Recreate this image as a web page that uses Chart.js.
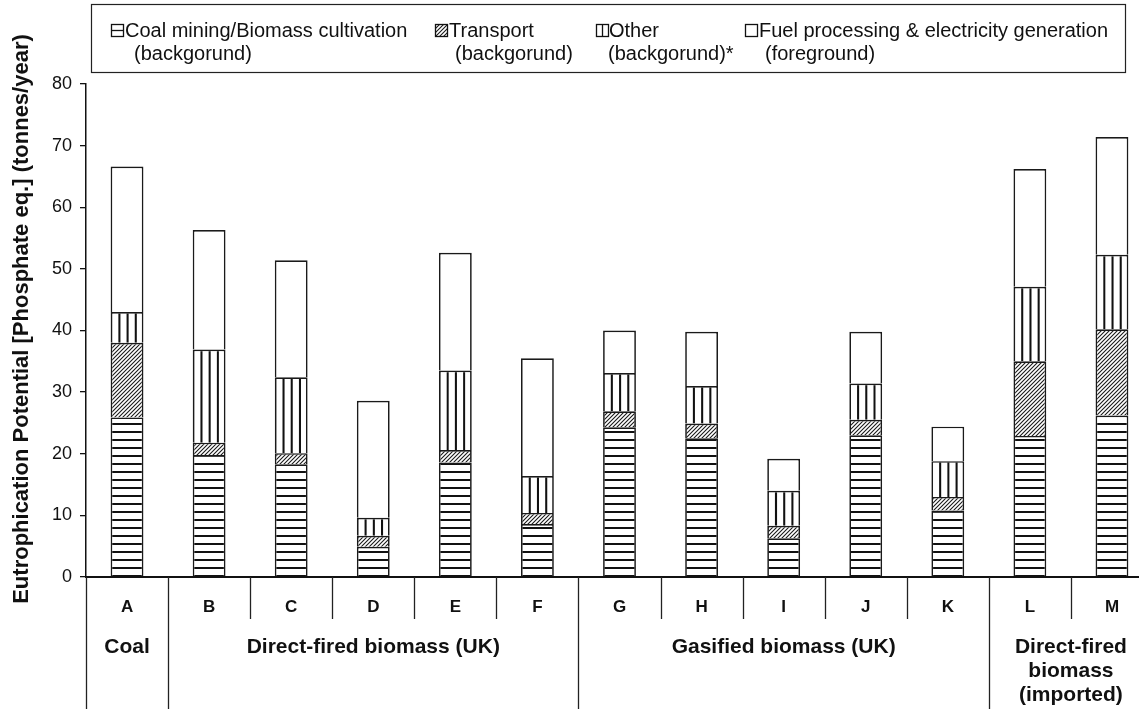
<!DOCTYPE html>
<html>
<head>
<meta charset="utf-8">
<script src="https://cdn.jsdelivr.net/npm/chart.js@4.4.1/dist/chart.umd.min.js"></script>
<style>
  html, body { margin: 0; padding: 0; background: #fff; overflow: hidden; }
  #wrap { position: absolute; left: 0; top: 0; width: 1160px; height: 709px; }
</style>
</head>
<body>
<div id="wrap"><canvas id="chart" width="1160" height="709"></canvas></div>
<script>
// --- data (tonnes/year, stacked segments) ---
const categories = ['A', 'B', 'C', 'D', 'E', 'F', 'G', 'H', 'I', 'J', 'K', 'L', 'M'];
const coalBiomass    = [25.9, 19.8, 18.3, 4.9, 18.6, 8.6, 24.3, 22.5, 6.3, 23.0, 10.8, 22.9, 26.2];
const transport      = [12.1, 2.0, 1.8, 1.8, 2.0, 1.8, 2.6, 2.4, 2.0, 2.5, 2.2, 12.1, 14.0];
const other          = [5.0, 15.1, 12.3, 2.9, 12.9, 6.0, 6.2, 6.1, 5.7, 5.9, 5.8, 12.1, 12.1];
const fuelProcessing = [23.6, 19.4, 19.0, 19.0, 19.1, 19.1, 6.9, 8.8, 5.2, 8.4, 5.6, 19.1, 19.1];
const yTicks = [0, 10, 20, 30, 40, 50, 60, 70, 80];

// groups under the letters: first index, last index, text lines
const groupStart = [0, 1, 6, 11];
const groupEnd   = [0, 5, 10, 12];
const groupText  = [['Coal'], ['Direct-fired biomass (UK)'], ['Gasified biomass (UK)'], ['Direct-fired', 'biomass', '(imported)']];

const legendLine1 = ['Coal mining/Biomass cultivation', 'Transport', 'Other', 'Fuel processing & electricity generation'];
const legendLine2 = ['(backgorund)', '(backgorund)', '(backgorund)*', '(foreground)'];
const yTitle = 'Eutrophication Potential [Phosphate eq.] (tonnes/year)';

const BAR_PCT = 0.4;
const FONT = '"Liberation Sans", Arial, sans-serif';

const canvas = document.getElementById('chart');
const mainCtx = canvas.getContext('2d');

// hatch fills
function makePattern(kind) {
    const c = document.createElement('canvas');
    const g = c.getContext('2d');
    if (kind === 'diagonal') {
        c.width = 4; c.height = 4;
        g.fillStyle = '#fff'; g.fillRect(0, 0, 4, 4);
        g.strokeStyle = '#1a1a1a'; g.lineWidth = 1.1;
        g.beginPath();
        g.moveTo(0, 4); g.lineTo(4, 0);
        g.moveTo(-1, 1); g.lineTo(1, -1);
        g.moveTo(3, 5); g.lineTo(5, 3);
        g.stroke();
    } else {
        c.width = 8; c.height = 8;
        g.fillStyle = '#fff'; g.fillRect(0, 0, 8, 8);
        g.fillStyle = '#111';
        if (kind === 'horizontal') g.fillRect(0, 0, 8, 2);
        else if (kind === 'vertical') g.fillRect(0, 0, 2, 8);
    }
    return mainCtx.createPattern(c, 'repeat');
}

const fills = [makePattern('horizontal'), makePattern('diagonal'), makePattern('vertical'), '#ffffff'];
const legendHatch = makePattern('diagonal');

// line the vertical stripes up with the bar edges (4 stripes per bar width)
const stripePlugin = {
    id: 'stripes',
    beforeDatasetsDraw(chart) {
        const xs = chart.scales.x;
        const step = xs.getPixelForValue(1) - xs.getPixelForValue(0);
        const barW = step * BAR_PCT;
        const left0 = xs.getPixelForValue(0) - barW / 2;
        fills[2].setTransform(new DOMMatrix().translate(left0 - 0.5, 0).scale(barW / 4 / 8, 1));
        fills[0].setTransform(new DOMMatrix().translate(0, chart.chartArea.bottom - 2));
    }
};

// legend, rotated y title and the table of labels under the axis
const decorPlugin = {
    id: 'decor',
    afterDraw(chart) {
        const ctx = chart.ctx;
        const xs = chart.scales.x;
        const area = chart.chartArea;
        const half = (xs.getPixelForValue(1) - xs.getPixelForValue(0)) / 2;
        ctx.save();

        // legend box
        ctx.strokeStyle = '#222';
        ctx.lineWidth = 1.2;
        ctx.strokeRect(91.5, 4.5, 1034, 68);
        const iconX = [111, 435, 596, 745];
        const textX = [125, 449, 609, 759];
        const line2X = [134, 455, 608, 765];
        ctx.font = '20px ' + FONT;
        ctx.textBaseline = 'middle';
        ctx.textAlign = 'left';
        for (let i = 0; i < 4; i++) {
            const ix = iconX[i] + 0.5, iy = 24.5, s = 12;
            ctx.fillStyle = '#fff';
            ctx.fillRect(ix, iy, s, s);
            ctx.strokeStyle = '#111';
            ctx.lineWidth = 1.3;
            if (i === 1) {
                ctx.fillStyle = legendHatch;
                ctx.fillRect(ix, iy, s, s);
            }
            ctx.beginPath();
            if (i === 0) { ctx.moveTo(ix, iy + s / 2); ctx.lineTo(ix + s, iy + s / 2); }
            if (i === 2) { ctx.moveTo(ix + s / 2, iy); ctx.lineTo(ix + s / 2, iy + s); }
            ctx.stroke();
            ctx.strokeRect(ix, iy, s, s);
            ctx.fillStyle = '#111';
            ctx.fillText(legendLine1[i], textX[i], 31);
            ctx.fillText(legendLine2[i], line2X[i], 54);
        }

        // y axis title
        ctx.save();
        ctx.translate(22, 319);
        ctx.rotate(-Math.PI / 2);
        ctx.font = 'bold 22px ' + FONT;
        ctx.textAlign = 'center';
        ctx.fillText(yTitle, 0, 0);
        ctx.restore();

        // divider lines below the axis
        ctx.strokeStyle = '#222';
        ctx.lineWidth = 1.3;
        for (let i = 0; i < categories.length; i++) {
            const px = Math.round(xs.getPixelForValue(i) - half) + 0.5;
            const bottom = groupStart.includes(i) ? 709 : 619;
            ctx.beginPath();
            ctx.moveTo(px, area.bottom);
            ctx.lineTo(px, bottom);
            ctx.stroke();
        }

        // group names
        ctx.font = 'bold 21px ' + FONT;
        ctx.textAlign = 'center';
        for (let g = 0; g < groupText.length; g++) {
            const cx = (xs.getPixelForValue(groupStart[g]) + xs.getPixelForValue(groupEnd[g])) / 2;
            groupText[g].forEach((t, k) => ctx.fillText(t, cx, 647 + k * 24));
        }
        ctx.restore();
    }
};

new Chart(canvas, {
    type: 'bar',
    data: {
        labels: categories,
        datasets: [
            { label: legendLine1[0], data: coalBiomass, backgroundColor: fills[0] },
            { label: legendLine1[1], data: transport, backgroundColor: fills[1] },
            { label: legendLine1[2], data: other, backgroundColor: fills[2] },
            { label: legendLine1[3], data: fuelProcessing, backgroundColor: fills[3] }
        ].map(d => Object.assign(d, {
            borderColor: '#1a1a1a',
            borderWidth: 1.7,
            barPercentage: BAR_PCT,
            categoryPercentage: 1.0
        }))
    },
    options: {
        responsive: false,
        animation: false,
        events: [],
        layout: { padding: { top: 84, right: 7, left: 0, bottom: 0 } },
        plugins: { legend: { display: false }, tooltip: { enabled: false } },
        scales: {
            x: {
                stacked: true,
                grid: { display: false, drawTicks: false },
                border: { display: true, color: '#111', width: 2 },
                ticks: {
                    color: '#111',
                    padding: 20,
                    font: { family: FONT, size: 17, weight: 'bold' }
                },
                afterFit(scale) { scale.height = 132; }
            },
            y: {
                stacked: true,
                min: 0,
                max: 80,
                afterBuildTicks(scale) { scale.ticks = yTicks.map(v => ({ value: v })); },
                grid: { drawOnChartArea: false, drawTicks: true, tickLength: 6, color: '#111', lineWidth: 1.3 },
                border: { display: true, color: '#111', width: 1.5 },
                ticks: {
                    color: '#111',
                    padding: 8,
                    font: { family: FONT, size: 18 }
                },
                afterFit(scale) { scale.width = 86; }
            }
        }
    },
    plugins: [stripePlugin, decorPlugin]
});
</script>
</body>
</html>
